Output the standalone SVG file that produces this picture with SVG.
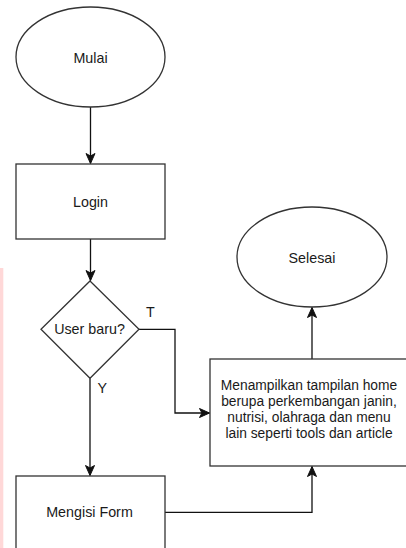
<svg xmlns="http://www.w3.org/2000/svg" width="406" height="548" viewBox="0 0 406 548">
<defs>
<style>
.shape{fill:#ffffff;stroke:#333333;stroke-width:1.3}
.edge{fill:none;stroke:#111111;stroke-width:1.3}
.lbl{font-family:"Liberation Sans",Arial,sans-serif;font-size:14.3px;fill:#1a1a1a;text-anchor:middle}
.lbl2{font-family:"Liberation Sans",Arial,sans-serif;font-size:13.8px;fill:#1a1a1a;text-anchor:middle}
.elbl{font-family:"Liberation Sans",Arial,sans-serif;font-size:14.3px;fill:#1a1a1a}
</style>
<marker id="arr" markerUnits="userSpaceOnUse" markerWidth="12" markerHeight="12" viewBox="0 0 12 12" refX="11" refY="6" orient="auto">
<path d="M1,1.5 L11,6 L1,10.5 L3.5,6 Z" fill="#111111" stroke="#111111" stroke-width="1"/>
</marker>
</defs>
<rect x="0" y="0" width="406" height="548" fill="#ffffff"/>
<rect x="0" y="268" width="3.3" height="280" fill="#ffd8d8"/>
<g id="connectors">
<path class="edge" d="M90.5,107 L90.5,163.5" marker-end="url(#arr)"/>
<path class="edge" d="M90.5,239 L90.5,280.5" marker-end="url(#arr)"/>
<path class="edge" d="M139,329.3 L175,329.3 L175,413 L209.5,413" marker-end="url(#arr)"/>
<path class="edge" d="M90,378.3 L90,475.5" marker-end="url(#arr)"/>
<path class="edge" d="M165,512.3 L312,512.3 L312,466.5" marker-end="url(#arr)"/>
<path class="edge" d="M312,359 L312,307.5" marker-end="url(#arr)"/>
<text class="elbl" x="146" y="317.3">T</text>
<text class="elbl" x="97.5" y="392.7">Y</text>
</g>
<g id="mulai">
<ellipse class="shape" cx="90.5" cy="57" rx="74.5" ry="50"/>
<text class="lbl" x="90.5" y="62.5">Mulai</text>
</g>
<g id="login">
<rect class="shape" x="16" y="164" width="149" height="75"/>
<text class="lbl" x="90.5" y="206.7">Login</text>
</g>
<g id="user-baru">
<polygon class="shape" points="90,281 139,329.3 90,378.3 41,329.3"/>
<text class="lbl" x="89.5" y="333.5">User baru?</text>
</g>
<g id="mengisi-form">
<rect class="shape" x="16" y="476" width="149" height="75"/>
<text class="lbl" x="89.5" y="517.3">Mengisi Form</text>
</g>
<g id="menampilkan">
<rect class="shape" x="210" y="359" width="204" height="107"/>
<text class="lbl2" x="309" y="390.1">Menampilkan tampilan home</text>
<text class="lbl2" x="309" y="406.1">berupa perkembangan janin,</text>
<text class="lbl2" x="309" y="422.1">nutrisi, olahraga dan menu</text>
<text class="lbl2" x="309" y="438.1">lain seperti tools dan article</text>
</g>
<g id="selesai">
<ellipse class="shape" cx="312" cy="257" rx="75" ry="50"/>
<text class="lbl" x="312" y="262.5">Selesai</text>
</g>
</svg>
